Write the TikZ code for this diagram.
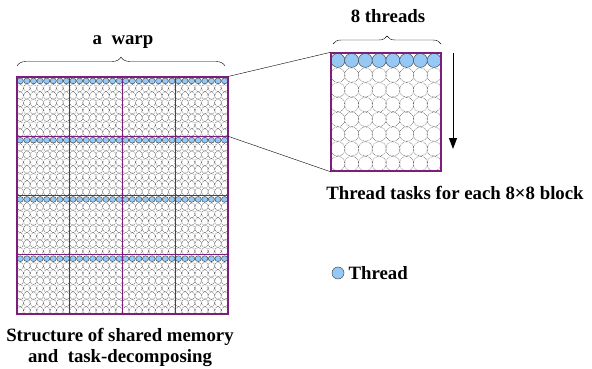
\documentclass[tikz,border=0pt]{standalone}
\usepackage{fontspec}
\setmainfont{Liberation Serif}
\usetikzlibrary{decorations.pathreplacing,arrows.meta}
\definecolor{threadblue}{RGB}{150,200,245}
\definecolor{gridpurple}{RGB}{125,30,125}

\begin{document}
\begin{tikzpicture}[x=1pt, y=-1pt,
    lbl/.style={font=\fontsize{18.8}{21}\selectfont\bfseries},
    cell/.style={draw=black, densely dotted, line width=0.45pt},
    thread/.style={draw=black!70, fill=threadblue, line width=0.5pt},
    frame/.style={draw=gridpurple, line width=1.3pt}]
    \useasboundingbox (0,0) rectangle (592,369);

    % shared memory: 4x4 blocks, 8x8 threads each
    \foreach \by in {0,...,3}{
        \foreach \i in {0,...,31}{
            \draw[thread] ({17+(\i+0.5)*6.59},{77+\by*59.25+3.9}) ellipse [x radius=3.1, y radius=2.9];
            \foreach \j in {1,...,7}
                \draw[cell] ({17+(\i+0.5)*6.59},{77+(\by*8+\j+0.5)*7.41}) ellipse [x radius=3.3, y radius=3.7];
        }
    }
    \node(warp)[frame, minimum width=211pt, minimum height=237pt, inner sep=0] at (122.5,195.5) {};
    \foreach \k in {1,2,3}{
        \draw[frame] ({17+\k*52.75},77) -- ({17+\k*52.75},314);
        \draw[frame] (17,{77+\k*59.25}) -- (228,{77+\k*59.25});
    }
    \coordinate(row1) at (228,136.25);

    % one 8x8 block
    \foreach \i in {0,...,7}{
        \draw[thread] ({331+(\i+0.5)*13.75},60.4) circle [radius=7];
        \foreach \j in {1,...,7}
            \draw[cell] ({331+(\i+0.5)*13.75},{53+(\j+0.5)*14.75}) circle [radius=7.2];
    }
    \node(blk)[frame, minimum width=110pt, minimum height=118pt, inner sep=0] at (386,112) {};

    \draw (warp.north east) -- (blk.north west);
    \draw (row1) -- (blk.south west);

    \coordinate(arr-top) at (453,53);
    \coordinate(arr-bot) at (453,149);
    \draw[line width=1pt, -{Triangle[width=8pt, length=11pt]}] (arr-top) -- (arr-bot);

    \draw[decorate, decoration={brace, amplitude=9pt}] (17,66) -- (225,66);
    \draw[decorate, decoration={brace, amplitude=8pt}] (333,44) -- (441,44);

    \node(warp-lbl)[lbl] at (123,42) {a\ \ warp};
    \node(thr-lbl)[lbl] at (388,16) {8 threads};
    \node(task-lbl)[lbl] at (455,193) {Thread tasks for each 8×8 block};
    \node(dot)[thread, circle, minimum size=12pt, inner sep=0] at (338,273) {};
    \node(dot-lbl)[lbl, anchor=west] at (345,273) {Thread};
    \node(cap)[lbl, align=center] at (120,347) {Structure of shared memory\\and\ \ task-decomposing};
\end{tikzpicture}
\end{document}
